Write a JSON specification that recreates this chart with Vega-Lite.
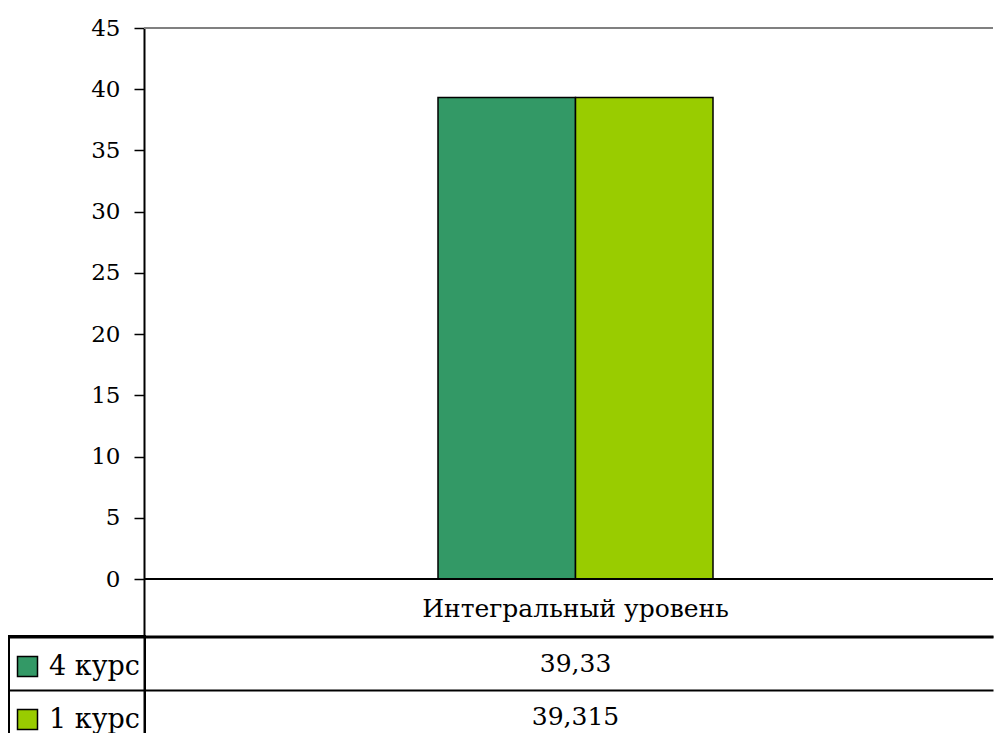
{
  "$schema": "https://vega.github.io/schema/vega-lite/v6.json",
  "padding": {"left": 8, "top": 17, "right": 0, "bottom": 0},
  "spacing": 0,
  "config": {
    "view": {"stroke": null},
    "font": "DejaVu Serif",
    "locale": {"number": {"decimal": ",", "thousands": " ", "grouping": [3], "currency": ["", ""]}},
    "legend": {
      "orient": "none",
      "legendX": -135,
      "legendY": 608,
      "titleFontSize": 10,
      "titlePadding": 2,
      "symbolType": "square",
      "symbolSize": 400,
      "symbolStrokeColor": "black",
      "symbolStrokeWidth": 1.5,
      "labelFont": "DejaVu Serif",
      "labelFontSize": 27,
      "labelColor": "black",
      "labelOffset": 8,
      "labelLimit": 1000,
      "rowPadding": 25,
      "padding": 5,
      "strokeColor": "black",
      "strokeWidth": 2
    }
  },
  "datasets": {
    "scores": [
      {"category": "Интегральный уровень", "course": "4 курс", "value": 39.33},
      {"category": "Интегральный уровень", "course": "1 курс", "value": 39.315}
    ]
  },
  "vconcat": [
    {
      "width": 849,
      "height": 608,
      "data": {"name": "scores"},
      "layer": [
        {
          "mark": {"type": "bar", "stroke": "black", "strokeWidth": 1.5},
          "encoding": {
            "x": {
              "field": "category",
              "type": "nominal",
              "scale": {"paddingInner": 0.0418, "paddingOuter": 1, "align": 0.5122},
              "axis": {
                "title": null,
                "ticks": false,
                "domainColor": "black",
                "domainWidth": 2,
                "labelAngle": 0,
                "labelPadding": -28,
                "labelBaseline": "middle",
                "labelLimit": 1000,
                "labelFont": "DejaVu Serif",
                "labelFontSize": 25,
                "labelColor": "black"
              }
            },
            "xOffset": {
              "field": "course",
              "type": "nominal",
              "sort": ["4 курс", "1 курс"],
              "scale": {"paddingInner": 0, "paddingOuter": 0}
            },
            "y": {
              "field": "value",
              "type": "quantitative",
              "stack": null,
              "scale": {"domain": [-4.655, 45], "nice": false, "zero": false},
              "axis": {
                "title": null,
                "values": [0, 5, 10, 15, 20, 25, 30, 35, 40, 45],
                "grid": false,
                "domainColor": "black",
                "domainWidth": 2,
                "tickColor": "black",
                "tickWidth": 1.5,
                "tickSize": 10,
                "labelPadding": 14,
                "labelFont": "DejaVu Serif",
                "labelFontSize": 23,
                "labelColor": "black"
              }
            },
            "color": {
              "field": "course",
              "type": "nominal",
              "scale": {"domain": ["4 курс", "1 курс"], "range": ["#339966", "#99CC00"]},
              "legend": {
                "title": "\u00a0"
              }
            }
          }
        },
        {
          "mark": {"type": "rule", "color": "black", "strokeWidth": 2},
          "encoding": {"y": {"datum": 0, "type": "quantitative"}}
        },
        {
          "mark": {"type": "rule", "color": "#808080", "strokeWidth": 2},
          "encoding": {"y": {"datum": 45, "type": "quantitative"}}
        }
      ]
    },
    {
      "width": 849,
      "height": 98,
      "data": {"name": "scores"},
      "mark": {"type": "text", "font": "DejaVu Serif", "fontSize": 25, "color": "black", "baseline": "middle", "dy": 0},
      "encoding": {
        "x": {
          "field": "category",
          "type": "nominal",
          "scale": {"type": "band", "paddingInner": 0.0418, "paddingOuter": 1, "align": 0.5122},
          "axis": null
        },
        "y": {
          "field": "course",
          "type": "nominal",
          "sort": ["4 курс", "1 курс"],
          "scale": {"type": "band", "range": [0, 106], "paddingInner": 0, "paddingOuter": 0},
          "axis": {
            "title": null,
            "labels": false,
            "ticks": true,
            "tickSize": 135,
            "tickColor": "black",
            "tickWidth": 2,
            "bandPosition": 0,
            "grid": true,
            "gridColor": "black",
            "gridWidth": 2,
            "gridOpacity": 1,
            "domain": true,
            "domainColor": "black",
            "domainWidth": 2
          }
        },
        "text": {"field": "value", "type": "quantitative", "format": ".5~g"}
      }
    }
  ]
}
